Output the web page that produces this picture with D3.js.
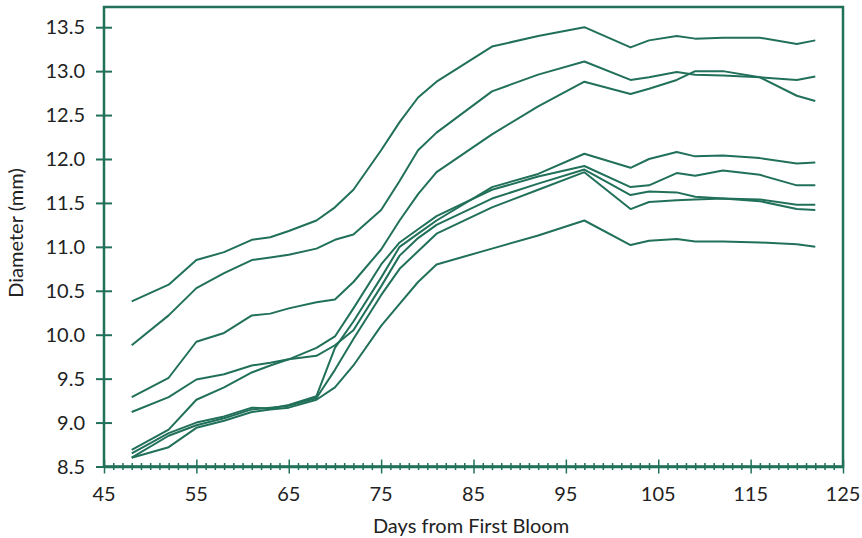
<!DOCTYPE html>
<html>
<head>
<meta charset="utf-8">
<script src="https://cdn.jsdelivr.net/npm/d3@7"></script>
<style>
body { margin: 0; background: #fff; }
text { font-family: Lato, "Open Sans", sans-serif; fill: #222; }
</style>
</head>
<body>
<div id="chart"></div>
<script>
// sampling days (days from first bloom)
var days = [48, 52, 55, 58, 61, 63, 65, 68, 70, 72, 75, 77, 79, 81, 87, 92, 97, 102, 104, 107, 109, 112, 116, 120, 122];

// fruit diameter (mm), one array per series
var seriesA = [10.38, 10.57, 10.85, 10.94, 11.08, 11.11, 11.18, 11.3, 11.45, 11.65, 12.1, 12.42, 12.7, 12.88, 13.28, 13.4, 13.5, 13.27, 13.35, 13.4, 13.37, 13.38, 13.38, 13.31, 13.35];
var seriesB = [9.88, 10.22, 10.53, 10.7, 10.85, 10.88, 10.91, 10.98, 11.08, 11.14, 11.42, 11.75, 12.1, 12.3, 12.77, 12.96, 13.11, 12.9, 12.93, 12.99, 12.96, 12.95, 12.93, 12.9, 12.94];
var seriesC = [9.29, 9.51, 9.92, 10.02, 10.22, 10.24, 10.3, 10.37, 10.4, 10.6, 10.97, 11.3, 11.6, 11.85, 12.28, 12.6, 12.88, 12.74, 12.8, 12.9, 13.0, 13.0, 12.93, 12.72, 12.66];
var seriesD = [9.12, 9.29, 9.49, 9.55, 9.65, 9.68, 9.72, 9.76, 9.88, 10.05, 10.55, 10.9, 11.1, 11.25, 11.55, 11.72, 11.88, 11.59, 11.63, 11.62, 11.57, 11.55, 11.52, 11.43, 11.42];
var seriesE = [8.69, 8.92, 9.26, 9.4, 9.57, 9.65, 9.72, 9.85, 9.98, 10.3, 10.8, 11.05, 11.2, 11.35, 11.65, 11.8, 11.92, 11.68, 11.7, 11.84, 11.81, 11.87, 11.82, 11.7, 11.7];
var seriesF = [8.65, 8.88, 9.0, 9.07, 9.17, 9.16, 9.2, 9.3, 9.85, 10.15, 10.65, 11.0, 11.15, 11.3, 11.68, 11.83, 12.06, 11.9, 12.0, 12.08, 12.03, 12.04, 12.01, 11.95, 11.96];
var seriesG = [8.6, 8.85, 8.97, 9.05, 9.15, 9.17, 9.19, 9.28, 9.6, 9.95, 10.45, 10.75, 10.95, 11.15, 11.45, 11.65, 11.85, 11.43, 11.51, 11.53, 11.54, 11.55, 11.54, 11.48, 11.48];
var seriesH = [8.6, 8.72, 8.94, 9.02, 9.12, 9.15, 9.17, 9.26, 9.4, 9.65, 10.1, 10.35, 10.6, 10.8, 10.98, 11.13, 11.3, 11.02, 11.07, 11.09, 11.06, 11.06, 11.05, 11.03, 11.0];

var xTicks = [45, 55, 65, 75, 85, 95, 105, 115, 125];
var yTicks = [8.5, 9.0, 9.5, 10.0, 10.5, 11.0, 11.5, 12.0, 12.5, 13.0, 13.5];

var green = "#21705a";

var svg = d3.select("#chart").append("svg")
	.attr("width", 862)
	.attr("height", 538);

var x = d3.scaleLinear().domain([45, 125]).range([104, 843]);
var y = d3.scaleLinear().domain([8.5, 13.73]).range([466.5, 7]);

// frame
svg.append("rect")
	.attr("x", x(45)).attr("y", y(13.73))
	.attr("width", x(125) - x(45))
	.attr("height", y(8.5) - y(13.73))
	.attr("fill", "none")
	.attr("stroke", green)
	.attr("stroke-width", 2.5);

// series lines
var line = d3.line()
	.x(function(d, i) { return x(days[i]); })
	.y(function(d) { return y(d); });

var allSeries = [seriesA, seriesB, seriesC, seriesD, seriesE, seriesF, seriesG, seriesH];
svg.selectAll(".series")
	.data(allSeries)
	.enter()
	.append("path")
	  .attr("class", "series")
	  .attr("d", line)
	  .attr("fill", "none")
	  .attr("stroke", green)
	  .attr("stroke-width", 2)
	  .attr("stroke-linejoin", "round");

/**  x axis: minor ticks every day, major every 10  **/
var xAxis = d3.axisBottom(x).tickValues(d3.range(45, 126)).tickSize(0).tickFormat("");
var gx = svg.append("g")
	.attr("transform", "translate(0," + y(8.5) + ")")
	.call(xAxis);
gx.select(".domain").attr("stroke", green).attr("stroke-width", 2.5);
gx.selectAll(".tick line")
	.attr("stroke", green)
	.attr("stroke-width", 1.5)
	.attr("y1", function(d) { return xTicks.indexOf(d) >= 0 ? -7 : -3.5; })
	.attr("y2", function(d) { return xTicks.indexOf(d) >= 0 ? 7 : 3.5; });

svg.selectAll(".xlab")
	.data(xTicks)
	.enter()
	.append("text")
	  .attr("class", "xlab")
	  .attr("x", function(d) { return x(d); })
	  .attr("y", 501)
	  .attr("text-anchor", "middle")
	  .style("font-size", "20px")
	  .text(function(d) { return d; });

/**  y axis  **/
var yAxis = d3.axisLeft(y).tickValues(yTicks).tickSize(0).tickFormat("");
var gy = svg.append("g")
	.attr("transform", "translate(" + x(45) + ",0)")
	.call(yAxis);
gy.select(".domain").remove();
gy.selectAll(".tick line")
	.attr("stroke", green)
	.attr("stroke-width", 2)
	.attr("x1", -8)
	.attr("x2", 8);

svg.selectAll(".ylab")
	.data(yTicks)
	.enter()
	.append("text")
	  .attr("class", "ylab")
	  .attr("x", 85)
	  .attr("y", function(d) { return y(d); })
	  .attr("dy", "0.36em")
	  .attr("text-anchor", "end")
	  .style("font-size", "20px")
	  .text(function(d) { return d.toFixed(1); });

// axis titles
svg.append("text")
	.attr("x", 471)
	.attr("y", 533)
	.attr("text-anchor", "middle")
	.style("font-size", "20px")
	.text("Days from First Bloom");

svg.append("text")
	.attr("transform", "translate(23,233) rotate(-90)")
	.attr("text-anchor", "middle")
	.style("font-size", "20px")
	.text("Diameter (mm)");
</script>
</body>
</html>
